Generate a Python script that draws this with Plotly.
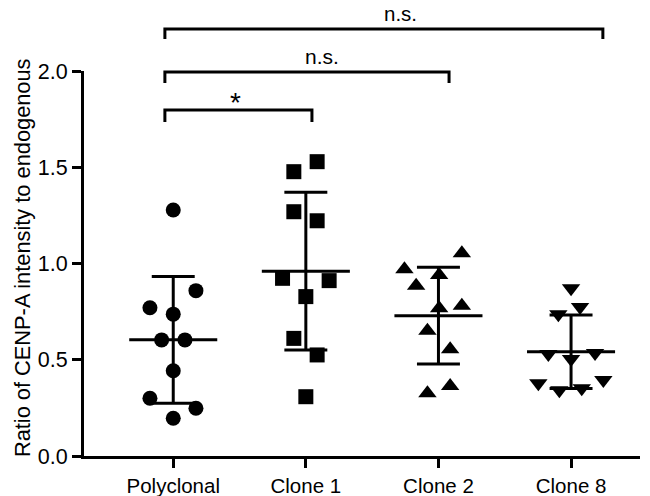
import numpy as np
import plotly.graph_objects as go

# ---- data ----
categories = ["Polyclonal", "Clone 1", "Clone 2", "Clone 8"]
polyclonal = [1.278, 0.859, 0.770, 0.737, 0.603, 0.603, 0.443, 0.300, 0.248, 0.196]
clone1 = [1.529, 1.477, 1.269, 1.222, 0.923, 0.911, 0.828, 0.611, 0.525, 0.308]
clone2 = [1.053, 0.970, 0.940, 0.885, 0.767, 0.781, 0.651, 0.554, 0.364, 0.326]
clone8 = [0.871, 0.774, 0.736, 0.530, 0.535, 0.504, 0.378, 0.395, 0.341, 0.352]
y_ticks = [0.0, 0.5, 1.0, 1.5, 2.0]
y_tick_labels = ["0.0", "0.5", "1.0", "1.5", "2.0"]
comparisons = [("*", 0, 1), ("n.s.", 0, 2), ("n.s.", 0, 3)]

# ---- layout helpers (horizontal scatter of points within a column, px/132.6) ----
jitter_px = {
    0: [0, 22.7, -23.3, 0, -11.6, 11.7, 0, -23.3, 22.7, 0],
    1: [11.3, -12, -12, 11.3, -23.3, 23.3, 0, -12, 11.3, 0],
    2: [23.4, -34, 0.7, -22.3, 0.7, 23.4, -11, 11.7, 11.7, -11],
    3: [0, 9, -12.7, -22.7, 24, 0, -32.7, 32.3, -11.7, 10.7],
}
PX = 132.6
groups = [polyclonal, clone1, clone2, clone8]
symbols = ["circle", "square", "triangle-up", "triangle-down"]
sizes = [15, 15, 16, 16]
FONT = "Liberation Sans, Arial, sans-serif"

fig = go.Figure()
for i, vals in enumerate(groups):
    xs = [i + j / PX for j in jitter_px[i]]
    fig.add_trace(go.Scatter(
        x=xs, y=vals, mode="markers",
        marker=dict(symbol=symbols[i], size=sizes[i], color="black", line=dict(width=0)),
        showlegend=False, hoverinfo="skip", cliponaxis=False))
    m = float(np.mean(vals))
    sd = float(np.std(vals, ddof=1))
    hw, cw = 0.332, 0.162
    ex = [i - hw, i + hw, None, i, i, None, i - cw, i + cw, None, i - cw, i + cw]
    ey = [m, m, None, m - sd, m + sd, None, m + sd, m + sd, None, m - sd, m - sd]
    fig.add_trace(go.Scatter(x=ex, y=ey, mode="lines",
                             line=dict(color="black", width=3),
                             showlegend=False, hoverinfo="skip"))

YMAX = 2.0
# bracket geometry in data units
bracket_levels = [(1.797, 1.735), (1.995, 1.938), (2.218, 2.166)]
bracket_ends = [(-0.063, 1.046), (-0.063, 2.08), (-0.063, 3.24)]
label_pos = [(0.473, 0.918, "middle", 28), (1.121, 1.005, "bottom", 21), (1.717, 1.150, "middle", 20.5)]
shapes = []
annotations = []
for k, (lab, a, b) in enumerate(comparisons):
    top, drop = bracket_levels[k]
    x0, x1 = bracket_ends[k]
    ln = dict(color="black", width=3)
    shapes.append(dict(type="path", xref="x", yref="paper",
                       path=f"M{x0},{drop/YMAX} L{x0},{top/YMAX} L{x1},{top/YMAX} L{x1},{drop/YMAX}",
                       line=ln))
    lx, ly, anc, fs = label_pos[k]
    annotations.append(dict(x=lx, y=ly, xref="x", yref="paper", text=lab, showarrow=False,
                            yanchor=anc, xanchor="center", borderpad=0,
                            font=dict(family=FONT, size=fs, color="black")))

annotations.append(dict(x=-0.1115, y=0.514, xref="paper", yref="paper",
                        text="Ratio of CENP-A intensity to endogenous", textangle=-90,
                        showarrow=False, xanchor="center", yanchor="middle",
                        font=dict(family=FONT, size=21.8, color="black")))

fig.update_layout(
    width=650, height=496,
    margin=dict(l=84, r=10, t=71, b=40, autoexpand=False),
    paper_bgcolor="white", plot_bgcolor="white",
    font=dict(family=FONT, size=21, color="black"),
    shapes=shapes, annotations=annotations,
    xaxis=dict(range=[-0.673, 3.52], tickvals=list(range(len(categories))), ticktext=categories,
               showline=True, linecolor="black", linewidth=3, ticks="outside", ticklen=9,
               tickwidth=3, tickcolor="black", showgrid=False, zeroline=False,
               automargin=False, tickfont=dict(size=20.5)),
    yaxis=dict(range=[0, YMAX], tickvals=y_ticks, ticktext=y_tick_labels,
               showline=True, linecolor="black", linewidth=3, ticks="outside", ticklen=9,
               tickwidth=3, tickcolor="black", showgrid=False, zeroline=False,
               automargin=False, tickfont=dict(size=21.5)),
)
fig.write_html("out.html", config={"displayModeBar": False},
               post_script="document.body.style.margin='0';document.body.style.overflow='hidden';")
